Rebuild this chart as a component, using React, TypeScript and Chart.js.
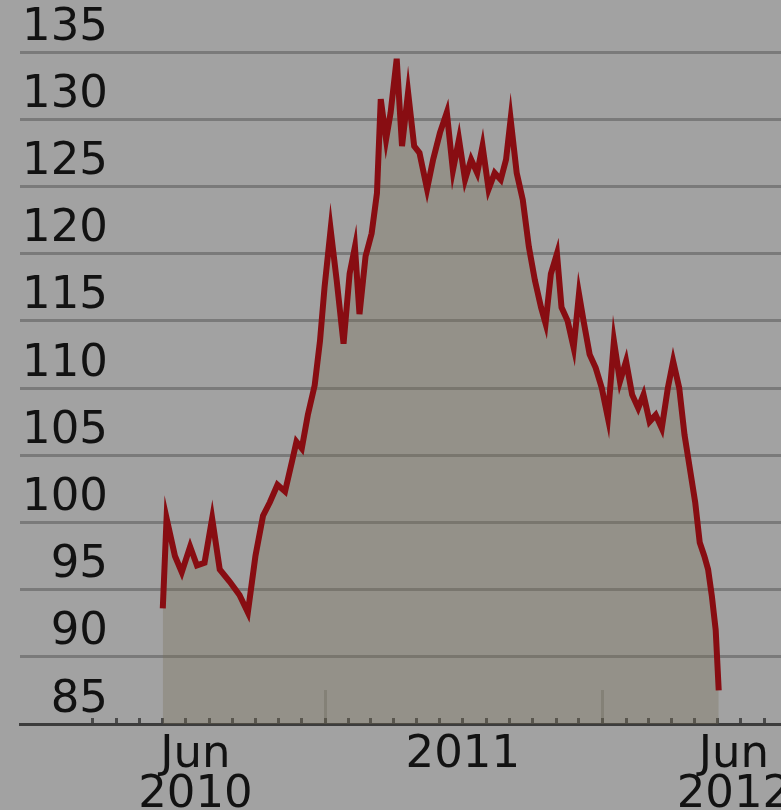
import React, { useEffect, useRef } from "react";
import { Chart, registerables } from "chart.js";

Chart.register(...registerables);

// Days since 1 June 2010 for each reading
const dayOffsets = [
  0, 5, 16, 25, 36, 45, 55, 65, 75, 88,
  101, 112, 122, 132, 141, 151, 161, 170, 176, 183,
  191, 200, 207, 213, 221, 229, 238, 246, 253, 259,
  267, 275, 282, 287, 294, 300, 308, 315, 323, 331,
  338, 348, 356, 365, 374, 382, 390, 398, 406, 414,
  421, 429, 437, 445, 452, 458, 466, 474, 482, 490,
  498, 504, 511, 519, 525, 533, 541, 548, 554, 562,
  570, 578, 586, 594, 602, 610, 618, 626, 633, 641,
  649, 657, 665, 672, 680, 687, 694, 701, 707, 713,
  718, 723, 728, 732,
];

const prices = [
  93.6, 100.3, 97.5, 96.3, 98.2, 96.8, 97.0, 100.3, 96.5, 95.6,
  94.6, 93.3, 97.5, 100.5, 101.5, 102.8, 102.3, 104.5, 106.0, 105.5,
  108.0, 110.2, 113.5, 117.5, 121.8, 118.0, 113.3, 118.5, 120.5, 115.5,
  119.8, 121.5, 124.5, 131.5, 128.5, 130.5, 134.5, 128.0, 132.0, 128.0,
  127.5, 124.8, 127.0, 129.0, 130.5, 126.2, 128.5, 125.5, 127.0, 126.0,
  128.0, 124.8, 126.0, 125.5, 127.0, 130.0, 126.0, 124.0, 120.5, 118.0,
  116.0, 114.8, 118.5, 120.0, 116.0, 115.0, 113.0, 117.0, 115.0, 112.5,
  111.5, 110.0, 107.8, 113.5, 110.5, 112.0, 109.5, 108.5, 109.5, 107.5,
  108.0, 107.0, 110.0, 112.0, 110.0, 106.5, 104.0, 101.5, 98.5, 97.5,
  96.5, 94.5, 92.0, 87.5,
];

const yMin = 85;
const yMax = 135;
const yStep = 5;

const xLabelDays = [43, 395, 752];
const xLabelText = [["Jun", "2010"], ["2011"], ["Jun", "2012"]];
const yearTickDays = [214, 579];

const X_MIN = -188;
const X_MAX = 814;

const BASE = Date.UTC(2010, 5, 1);
function monthStartDays(): number[] {
  const out: number[] = [];
  for (let y = 2010; y <= 2012; y++) {
    for (let m = 0; m < 12; m++) {
      const d = (Date.UTC(y, m, 1) - BASE) / 86400000;
      if (d >= -100 && d <= X_MAX) out.push(d);
    }
  }
  return out;
}

const FONT = { family: "DejaVu Sans", size: 45, lineHeight: 0.88 };
const BG = "#a2a2a2";

export default function App() {
  const canvasRef = useRef<HTMLCanvasElement | null>(null);

  useEffect(() => {
    document.body.style.margin = "0";
    document.body.style.background = BG;
    const canvas = canvasRef.current;
    if (!canvas) return;
    const points = dayOffsets.map((d, i) => ({ x: d, y: prices[i] }));
    const months = monthStartDays();

    const chart = new Chart(canvas, {
      type: "line",
      data: {
        datasets: [
          {
            data: points,
            borderColor: "#880d12",
            borderWidth: 6,
            pointRadius: 0,
            tension: 0,
            fill: "start",
            backgroundColor: "rgba(120,111,89,0.33)",
          },
        ],
      },
      options: {
        animation: false,
        responsive: true,
        maintainAspectRatio: false,
        layout: { padding: { left: 20, top: 52, right: 0, bottom: 0 } },
        plugins: { legend: { display: false }, tooltip: { enabled: false } },
        scales: {
          x: {
            type: "linear",
            min: X_MIN,
            max: X_MAX,
            position: "bottom",
            afterBuildTicks: (s: any) => {
              s.ticks = xLabelDays.map((v) => ({ value: v }));
            },
            afterFit: (s: any) => {
              s.height = 86;
              s.paddingLeft = 0;
              s.paddingRight = 0;
            },
            grid: { display: false, drawTicks: false },
            border: { display: true, color: "#3c3c3c", width: 3 },
            ticks: {
              autoSkip: false,
              maxRotation: 0,
              minRotation: 0,
              padding: 12,
              color: "#121212",
              font: FONT,
              callback: (_v: any, i: number) => xLabelText[i],
            },
          },
          xm: {
            type: "linear",
            min: X_MIN,
            max: X_MAX,
            position: { y: yMin } as any,
            afterBuildTicks: (s: any) => {
              s.ticks = months.map((v) => ({ value: v }));
            },
            grid: {
              display: true,
              drawOnChartArea: false,
              drawTicks: true,
              tickLength: -6,
              color: "#4a4a4a",
              lineWidth: 3,
            },
            border: { display: false },
            ticks: { display: false },
          },
          xy: {
            type: "linear",
            min: X_MIN,
            max: X_MAX,
            position: { y: yMin } as any,
            afterBuildTicks: (s: any) => {
              s.ticks = yearTickDays.map((v) => ({ value: v }));
            },
            grid: {
              display: true,
              drawOnChartArea: false,
              drawTicks: true,
              tickLength: -34,
              color: "rgba(80,80,70,0.3)",
              lineWidth: 3,
            },
            border: { display: false },
            ticks: { display: false },
          },
          y: {
            type: "linear",
            min: yMin,
            max: yMax,
            position: "left",
            afterFit: (s: any) => {
              s.width = 0;
            },
            grid: { color: "#7a7a7a", lineWidth: 3, drawTicks: false },
            border: { display: false },
            ticks: {
              stepSize: yStep,
              mirror: true,
              crossAlign: "far",
              padding: 2,
              labelOffset: -24,
              color: "#121212",
              font: FONT,
            },
          },
        },
      },
    } as any);

    return () => chart.destroy();
  }, []);

  return (
    <div style={{ width: 781, height: 810, position: "relative", background: BG }}>
      <canvas ref={canvasRef} />
    </div>
  );
}
